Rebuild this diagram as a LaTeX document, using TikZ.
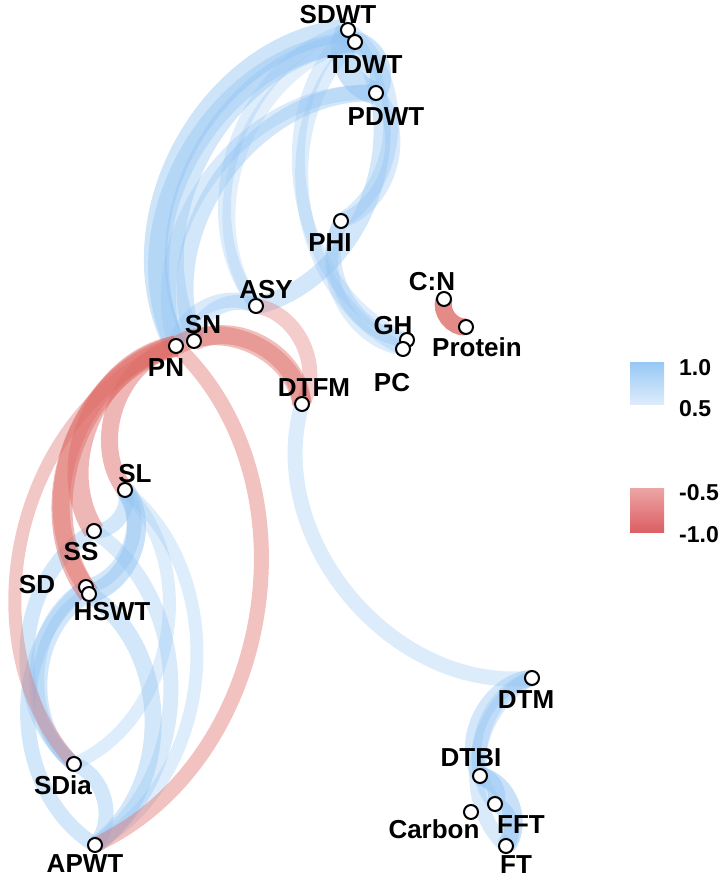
\documentclass[tikz,border=0pt]{standalone}
\usepackage{fontspec}
\setmainfont{Liberation Sans}
\definecolor{skyb}{RGB}{145,195,242}
\definecolor{redb}{RGB}{222,110,105}
\definecolor{legbtop}{RGB}{150,200,245}
\definecolor{legbbot}{RGB}{222,236,251}
\definecolor{legrtop}{RGB}{236,165,165}
\definecolor{legrbot}{RGB}{220,95,100}
\tikzset{
  pos/.style n args={2}{draw=skyb, line width=#1pt, draw opacity=#2},
  neg/.style n args={2}{draw=redb, line width=#1pt, draw opacity=#2},
  cv/.style={bend right=56},
  vtx/.style={circle, draw=black, fill=white, line width=2pt, minimum size=14pt, inner sep=0pt},
  lab/.style={font=\bfseries\fontsize{26}{30}\selectfont, text height=18.6pt, text depth=0pt, inner sep=0pt, anchor=center},
  leg/.style={font=\bfseries\fontsize{23}{27}\selectfont, text height=16.5pt, text depth=0pt, inner sep=0pt, anchor=west}
}
\begin{document}
\begin{tikzpicture}[x=1pt,y=-1pt]
\useasboundingbox (0,0) rectangle (720,879);
% positions
\coordinate (SDWT) at (348,30);
\coordinate (TDWT) at (355,42);
\coordinate (PDWT) at (376,93);
\coordinate (PHI) at (341,221);
\coordinate (ASY) at (256,306);
\coordinate (SN) at (194,341);
\coordinate (PN) at (176,346);
\coordinate (CN) at (444,299);
\coordinate (Protein) at (466,327);
\coordinate (GH) at (407,340);
\coordinate (PC) at (403,349);
\coordinate (DTFM) at (302,404);
\coordinate (SL) at (125,490);
\coordinate (SS) at (94,531);
\coordinate (SD) at (86,587);
\coordinate (HSWT) at (89,594);
\coordinate (SDia) at (74,764);
\coordinate (APWT) at (95,845);
\coordinate (DTM) at (532,678);
\coordinate (DTBI) at (480,776);
\coordinate (FFT) at (495,804);
\coordinate (Carbon) at (471,812);
\coordinate (FT) at (506,846);

% ---- blue edges (light first)
\draw[pos={13}{0.3}] (SDWT) to[cv] (GH);
\draw[pos={13}{0.3}] (TDWT) to[cv] (PC);
\draw[pos={13}{0.3}] (SDWT) to[cv] (ASY);
\draw[pos={13}{0.25}] (TDWT) to[cv] (ASY);
\draw[pos={15}{0.35}] (PHI) to[cv] (GH);
\draw[pos={13}{0.3}] (PHI) to[cv] (PC);
\draw[pos={17}{0.4}] (ASY) to[cv] (TDWT);
\draw[pos={15}{0.35}] (PHI) to[cv] (SDWT);
\draw[pos={15}{0.35}] (PHI) to[cv] (PDWT);
\draw[pos={17}{0.4}] (PDWT) to[cv] (SN);
\draw[pos={15}{0.35}] (PDWT) to[cv] (PN);
\draw[pos={19}{0.4}] (TDWT) to[cv] (SN);
\draw[pos={21}{0.4}] (TDWT) to[cv] (PN);
\draw[pos={23}{0.45}] (SDWT) to[cv] (PN);
\draw[pos={15}{0.35}] (ASY) to[cv] (PN);
\draw[pos={15}{0.35}] (ASY) to[cv] (SN);
\draw[pos={23}{0.5}] (SDWT) to[cv] (PDWT);
\draw[pos={21}{0.45}] (PDWT) to[cv] (TDWT);
\draw[pos={19}{0.5}] (SDWT) to[cv] (TDWT);

\draw[pos={15}{0.32}] (DTFM) to[cv] (DTM);
\draw[pos={17}{0.4}] (DTM) to[cv] (DTBI);
\draw[pos={15}{0.35}] (DTM) to[cv] (FT);
\draw[pos={15}{0.35}] (DTM) to[cv] (FFT);
\draw[pos={19}{0.5}] (FT) to[cv] (DTBI);
\draw[pos={17}{0.45}] (FFT) to[cv] (DTBI);
\draw[pos={15}{0.45}] (FT) to[cv] (FFT);

\draw[pos={13}{0.3}] (SDia) to[cv] (SL);
\draw[pos={13}{0.3}] (APWT) to[cv] (SL);
\draw[pos={15}{0.35}] (APWT) to[cv] (SS);
\draw[pos={17}{0.4}] (APWT) to[cv] (HSWT);
\draw[pos={15}{0.4}] (SD) to[cv] (APWT);
\draw[pos={15}{0.4}] (SS) to[cv] (SDia);
\draw[pos={15}{0.4}] (HSWT) to[cv] (SDia);
\draw[pos={15}{0.35}] (SD) to[cv] (SDia);
\draw[pos={15}{0.4}] (APWT) to[cv] (SDia);
\draw[pos={19}{0.5}] (HSWT) to[cv] (SL);
\draw[pos={15}{0.4}] (SD) to[cv] (SL);
\draw[pos={15}{0.4}] (SS) to[cv] (SL);

% ---- red edges
\draw[neg={13}{0.38}] (PN) to[cv] (SDia);
\draw[neg={15}{0.42}] (APWT) to[cv] (PN);
\draw[neg={15}{0.35}] (DTFM) to[cv] (ASY);
\draw[neg={19}{0.45}] (DTFM) to[cv] (SN);
\draw[neg={19}{0.45}] (DTFM) to[cv] (PN);
\draw[neg={17}{0.5}] (PN) to[cv] (SL);
\draw[neg={21}{0.5}] (PN) to[cv] (SS);
\draw[neg={21}{0.5}] (PN) to[cv] (HSWT);
\draw[neg={17}{0.45}] (PN) to[cv] (SD);
\draw[neg={17}{0.8}] (CN) to[cv] (Protein);

% ---- vertices
\foreach \v in {SDWT,TDWT,PDWT,PHI,ASY,SN,PN,CN,Protein,GH,PC,DTFM,SL,SS,SD,HSWT,SDia,APWT,DTM,DTBI,FFT,Carbon,FT}
  \node[vtx] (v-\v) at (\v) {};

% ---- labels
\node[lab] (l-SDWT) at (338,14) {SDWT};
\node[lab] (l-TDWT) at (365,64) {TDWT};
\node[lab] (l-PDWT) at (386,116) {PDWT};
\node[lab] (l-PHI) at (330,242) {PHI};
\node[lab] (l-ASY) at (266,289) {ASY};
\node[lab] (l-SN) at (203,324) {SN};
\node[lab] (l-PN) at (166,367) {PN};
\node[lab] (l-CN) at (432,281) {C:N};
\node[lab] (l-GH) at (393,325) {GH};
\node[lab] (l-Protein) at (477,347) {Protein};
\node[lab] (l-PC) at (392,382) {PC};
\node[lab] (l-DTFM) at (314,387) {DTFM};
\node[lab] (l-SL) at (135,473) {SL};
\node[lab] (l-SS) at (81,551) {SS};
\node[lab] (l-SD) at (37,584) {SD};
\node[lab] (l-HSWT) at (112,611) {HSWT};
\node[lab] (l-SDia) at (63,785) {SDia};
\node[lab] (l-APWT) at (85,863) {APWT};
\node[lab] (l-DTM) at (526,699) {DTM};
\node[lab] (l-DTBI) at (471,757) {DTBI};
\node[lab] (l-FFT) at (521,824) {FFT};
\node[lab] (l-Carbon) at (434,829) {Carbon};
\node[lab] (l-FT) at (516,864) {FT};

% ---- legend
\shade[top color=legbtop, bottom color=legbbot] (630,362) rectangle (664,404);
\shade[top color=legrtop, bottom color=legrbot] (630,488) rectangle (664,532);
\node[leg] (k1) at (679,367) {1.0};
\node[leg] (k2) at (679,408) {0.5};
\node[leg] (k3) at (679,492) {-0.5};
\node[leg] (k4) at (679,534) {-1.0};
\end{tikzpicture}
\end{document}
